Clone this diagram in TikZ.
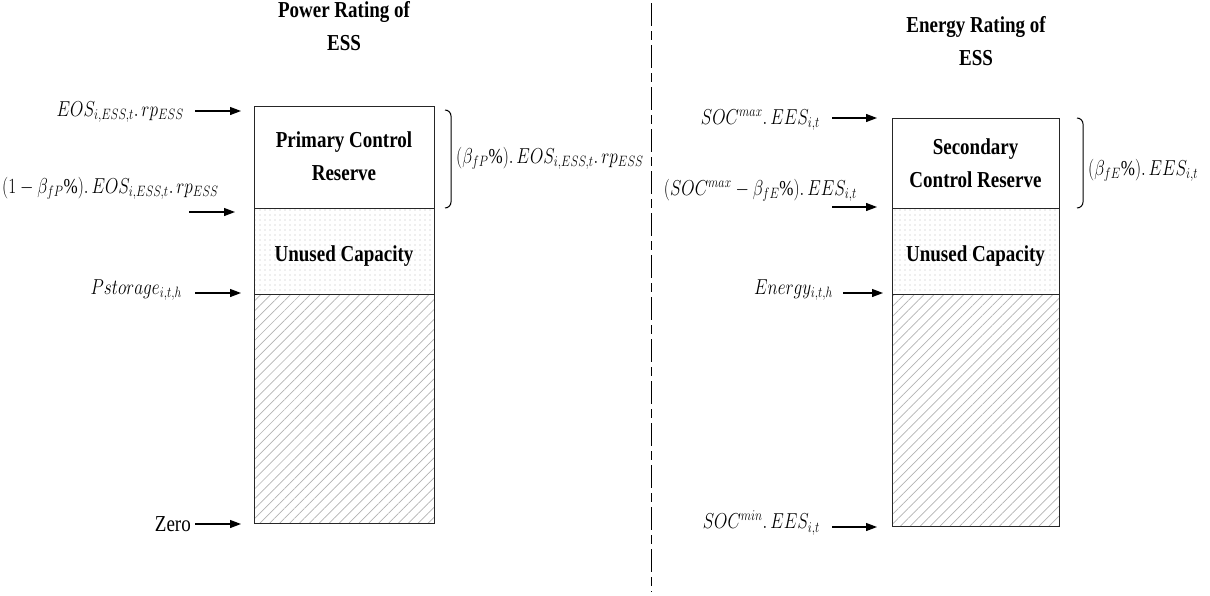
\documentclass[tikz,border=0pt]{standalone}
\usepackage{fontspec}
\usepackage{graphicx}
\setmainfont{Liberation Serif}
\usetikzlibrary{arrows.meta,patterns.meta}

% taller lettering for all labels
\newcommand{\tallbf}[1]{\scalebox{1}[1.2]{\begin{tabular}{@{}c@{}}#1\end{tabular}}}
\newcommand{\tallmath}[1]{\scalebox{1}[1.25]{#1}}

\begin{document}
\begin{tikzpicture}[x=1pt,y=-1pt,
  band/.style={draw=black!85,line width=1.1pt,inner sep=0pt,anchor=north west},
  reservebox/.style={band,fill=white},
  unusedbox/.style={band,pattern={Dots[distance=5pt,radius=0.55pt]},pattern color=black!28},
  usedbox/.style={band,pattern={Lines[angle=45,distance=7pt,line width=0.7pt]},pattern color=black!30},
  boxtext/.style={font=\fontsize{19}{27.5}\selectfont\bfseries,align=center,inner sep=0pt},
  title/.style={font=\fontsize{19}{27.5}\selectfont\bfseries,align=center,inner sep=0pt},
  lbl/.style={font=\fontsize{17}{20}\selectfont,inner sep=0pt},
  pointer/.style={line width=1.2pt,-{Triangle[length=11pt,width=8pt]}},
  brace/.style={line width=1pt}
]
\useasboundingbox (0,0) rectangle (1210,595);

% separator between the two ratings
\draw[line width=1.2pt,dash pattern=on 23pt off 5pt on 9pt off 5pt] (651.5,3) -- (651.5,592);

% ---------------- power rating column ----------------
\node[title] (ptitle) at (344,27) {\tallbf{Power Rating of\\ESS}};

\node[reservebox,minimum width=180pt,minimum height=102pt] (pres) at (254,106) {};
\node[unusedbox,minimum width=180pt,minimum height=86pt] (pun) at (254,208) {};
\node[usedbox,minimum width=180pt,minimum height=229pt] (pused) at (254,294) {};

\node[boxtext] (presT) at (344,157) {\tallbf{Primary Control\\Reserve}};
\node[boxtext] (punT) at (344,255) {\tallbf{Unused Capacity}};

% level markers
\node[lbl,anchor=east] (p1) at (184,112) {\tallmath{$EOS_{i,ESS,t}.\,rp_{ESS}$}};
\coordinate (p1s) at (195,111); \coordinate (p1e) at (241,111);
\draw[pointer] (p1s) -- (p1e);

\node[lbl,anchor=west] (p2) at (2,188) {\tallmath{$(1-\beta_{fP}\%).\,EOS_{i,ESS,t}.\,rp_{ESS}$}};
\coordinate (p2s) at (189,212); \coordinate (p2e) at (235,212);
\draw[pointer] (p2s) -- (p2e);

\node[lbl,anchor=east] (p3) at (182,290) {\tallmath{$Pstorage_{i,t,h}$}};
\coordinate (p3s) at (195,293); \coordinate (p3e) at (241,293);
\draw[pointer] (p3s) -- (p3e);

\node[lbl,font=\fontsize{19}{20}\selectfont,anchor=east] (p4) at (191,524) {\scalebox{1}[1.2]{Zero}};
\coordinate (p4e) at (241,524);
\draw[pointer] (p4.east) ++(4,0) -- (p4e);

% reserve bracket
\draw[brace] (445,110) to[out=0,in=90] (451,116) -- (451,202) to[out=-90,in=0] (445,208);
\node[lbl,anchor=west] (pb) at (456,158) {\tallmath{$(\beta_{fP}\%).\,EOS_{i,ESS,t}.\,rp_{ESS}$}};

% ---------------- energy rating column ----------------
\node[title] (etitle) at (976,42) {\tallbf{Energy Rating of\\ESS}};

\node[reservebox,minimum width=167pt,minimum height=90pt] (eres) at (892,118) {};
\node[unusedbox,minimum width=167pt,minimum height=86pt] (eun) at (892,208) {};
\node[usedbox,minimum width=167pt,minimum height=232pt] (eused) at (892,294) {};

\node[boxtext] (eresT) at (975.5,164) {\tallbf{Secondary\\Control Reserve}};
\node[boxtext] (eunT) at (975.5,255) {\tallbf{Unused Capacity}};

\node[lbl,anchor=east] (e1) at (820,120) {\tallmath{$SOC^{max}.\,EES_{i,t}$}};
\coordinate (e1s) at (832,118); \coordinate (e1e) at (877,118);
\draw[pointer] (e1s) -- (e1e);

\node[lbl,anchor=east] (e2) at (857,190) {\tallmath{$(SOC^{max}-\beta_{fE}\%).\,EES_{i,t}$}};
\coordinate (e2s) at (832,207); \coordinate (e2e) at (877,207);
\draw[pointer] (e2s) -- (e2e);

\node[lbl,anchor=east] (e3) at (833,290) {\tallmath{$Energy_{i,t,h}$}};
\coordinate (e3s) at (843,293); \coordinate (e3e) at (883,293);
\draw[pointer] (e3s) -- (e3e);

\node[lbl,anchor=east] (e4) at (820,523) {\tallmath{$SOC^{min}.\,EES_{i,t}$}};
\coordinate (e4s) at (832,527); \coordinate (e4e) at (877,527);
\draw[pointer] (e4s) -- (e4e);

\draw[brace] (1077,118) to[out=0,in=90] (1083,124) -- (1083,202) to[out=-90,in=0] (1077,208);
\node[lbl,anchor=west] (eb) at (1088,170) {\tallmath{$(\beta_{fE}\%).\,EES_{i,t}$}};
\end{tikzpicture}
\end{document}
